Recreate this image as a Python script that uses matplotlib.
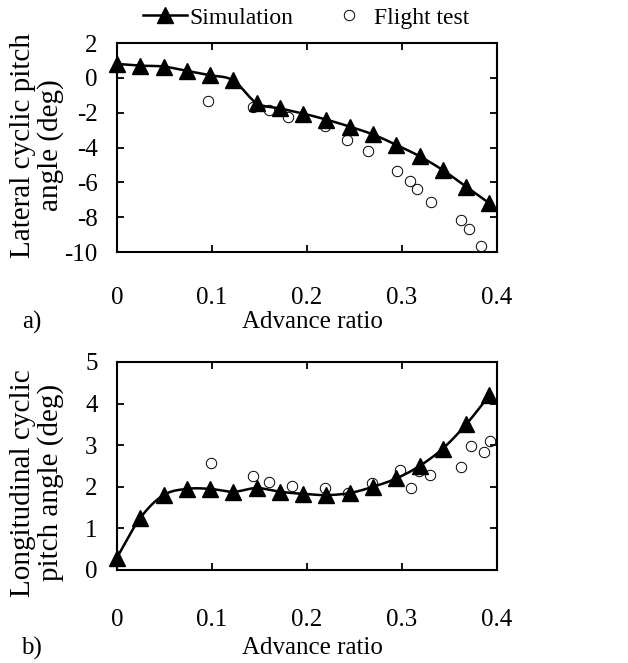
import numpy as np
import matplotlib.pyplot as plt
from matplotlib.lines import Line2D

plt.rcParams['font.family'] = ['Liberation Serif', 'DejaVu Serif']
plt.rcParams['axes.unicode_minus'] = False
plt.rcParams['font.size'] = 18

# simulation points, same advance ratios for both panels
mu_sim = np.arange(17) * 0.0245
lat_sim = [0.8, 0.7, 0.65, 0.4, 0.15, -0.15, -1.45, -1.75, -2.05, -2.4,
           -2.8, -3.25, -3.85, -4.5, -5.3, -6.25, -7.2]
lon_sim = [0.3, 1.25, 1.8, 1.95, 1.95, 1.88, 1.97, 1.88, 1.83, 1.8,
           1.85, 2.0, 2.2, 2.5, 2.92, 3.5, 4.2]

# flight test data
mu_lat_ft = [0.096, 0.143, 0.160, 0.180, 0.219, 0.242, 0.264, 0.295,
             0.308, 0.316, 0.331, 0.3625, 0.371, 0.3835]
lat_ft = [-1.31, -1.67, -1.87, -2.25, -2.75, -3.55, -4.22, -5.35,
          -5.94, -6.36, -7.11, -8.18, -8.68, -9.67]
mu_lon_ft = [0.099, 0.1436, 0.160, 0.184, 0.219, 0.243, 0.268, 0.298,
             0.309, 0.318, 0.330, 0.3625, 0.373, 0.386, 0.393]
lon_ft = [2.58, 2.26, 2.12, 2.01, 1.97, 1.86, 2.09, 2.41,
          1.97, 2.39, 2.28, 2.48, 2.97, 2.83, 3.11]

x_ticks = [0, 0.1, 0.2, 0.3, 0.4]
x_ticklabels = ['0', '0.1', '0.2', '0.3', '0.4']


def smooth(x, y, n=24):
    # Catmull-Rom spline through the points (spreadsheet-style smoothed line)
    x = np.asarray(x, float)
    y = np.asarray(y, float)
    px = np.concatenate([[2 * x[0] - x[1]], x, [2 * x[-1] - x[-2]]])
    py = np.concatenate([[2 * y[0] - y[1]], y, [2 * y[-1] - y[-2]]])
    xs, ys = [], []
    t = np.linspace(0, 1, n, endpoint=False)
    for i in range(1, len(px) - 2):
        for p, out in ((px, xs), (py, ys)):
            p0, p1, p2, p3 = p[i - 1], p[i], p[i + 1], p[i + 2]
            out.extend(0.5 * (2 * p1 + (-p0 + p2) * t
                              + (2 * p0 - 5 * p1 + 4 * p2 - p3) * t ** 2
                              + (-p0 + 3 * p1 - 3 * p2 + p3) * t ** 3))
    xs.append(x[-1])
    ys.append(y[-1])
    return np.array(xs), np.array(ys)


fig = plt.figure(figsize=(6.28, 6.63), dpi=100)
ax1 = fig.add_axes([0.1863, 0.6199, 0.6051, 0.3152])
ax2 = fig.add_axes([0.1863, 0.1403, 0.6051, 0.3137])


def draw(ax, ys, mu_ft, y_ft):
    sx, sy = smooth(mu_sim, ys)
    ax.plot(mu_ft, y_ft, ls='none', marker='o', ms=7.5, mfc='none',
            mec='black', mew=0.7, clip_on=False, zorder=2)
    ax.plot(sx, sy, color='black', lw=1.8, zorder=3)
    ax.plot(mu_sim, ys, ls='none', marker='^', ms=11.5, color='black',
            clip_on=False, zorder=4)
    ax.set_xlim(0, 0.4)
    ax.set_xticks(x_ticks)
    ax.set_xticklabels(x_ticklabels)
    ax.tick_params(direction='in', top=True, right=True, length=5,
                   width=1.3, labelsize=18)
    ax.tick_params(axis='y', pad=14)
    for s in ax.spines.values():
        s.set_linewidth(1.5)


draw(ax1, lat_sim, mu_lat_ft, lat_ft)
ax1.set_ylim(-10, 2)
ax1.set_yticks([2, 0, -2, -4, -6, -8, -10])
ax1.tick_params(axis='x', pad=25)
ax1.set_ylabel('Lateral cyclic pitch\nangle (deg)', fontsize=21,
               linespacing=1.05)
ax1.yaxis.set_label_coords(-0.14, 0.51)

draw(ax2, lon_sim, mu_lon_ft, lon_ft)
ax2.set_ylim(0, 5)
ax2.set_yticks([0, 1, 2, 3, 4, 5])
ax2.tick_params(axis='x', pad=28)
ax2.set_ylabel('Longitudinal cyclic\npitch angle (deg)', fontsize=21,
               linespacing=1.05)
ax2.yaxis.set_label_coords(-0.14, 0.42)

fig.text(0.497, 1 - 322 / 663, 'Advance ratio', ha='center', va='center',
         fontsize=18)
fig.text(0.497, 1 - 648 / 663, 'Advance ratio', ha='center', va='center',
         fontsize=18)
fig.text(0.05, 1 - 322 / 663, 'a)', ha='center', va='center', fontsize=18)
fig.text(0.05, 1 - 648 / 663, 'b)', ha='center', va='center', fontsize=18)

handles = [
    Line2D([], [], color='black', lw=1.8, marker='^', ms=11.5),
    Line2D([], [], ls='none', marker='o', ms=7.5, mfc='none', mec='black',
           mew=0.7),
]
fig.legend(handles, ['Simulation', 'Flight test'], loc='center',
           bbox_to_anchor=(0.487, 0.973), ncol=2, frameon=False,
           handlelength=1.9, handletextpad=0.1, columnspacing=1.4,
           fontsize=17, borderpad=0)

fig.savefig('out.png', dpi=100)
